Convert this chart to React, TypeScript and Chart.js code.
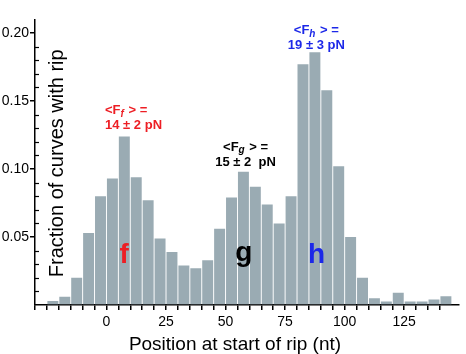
import React, { useEffect, useRef } from 'react';
import { Chart, registerables } from 'chart.js';

Chart.register(...registerables);

// ---- data ----
const binCenters = [
  -22.5, -17.5, -12.5, -7.5, -2.5, 2.5, 7.5, 12.5, 17.5, 22.5, 27.5, 32.5, 37.5, 42.5,
  47.5, 52.5, 57.5, 62.5, 67.5, 72.5, 77.5, 82.5, 87.5, 92.5, 97.5, 102.5, 107.5, 112.5,
  117.5, 122.5, 127.5, 132.5, 137.5, 142.5,
];
const fractions = [
  0.003, 0.006, 0.020, 0.053, 0.080, 0.093, 0.124, 0.094, 0.077, 0.049, 0.039, 0.029, 0.027, 0.033,
  0.056, 0.079, 0.098, 0.087, 0.074, 0.060, 0.080, 0.177, 0.186, 0.158, 0.102, 0.050, 0.020, 0.005,
  0.0025, 0.009, 0.0025, 0.0025, 0.004, 0.0065,
];
const xTickLabels = [0, 25, 50, 75, 100, 125];
const yTickLabels = [0.05, 0.1, 0.15, 0.2];

const peakLetters = ['f', 'g', 'h'];
const forceSubscripts = ['f', 'g', 'h'];
const forceValues = ['14 \u00b1 2 pN', '15 \u00b1 2  pN', '19 \u00b1 3 pN'];

// ---- layout / style ----
const X_MIN = -30;
const X_MAX = 148;
const Y_MAX = 0.21;
const BAR_COLOR = 'rgb(154,171,179)';
const PEAK_COLORS = ['rgb(237,30,36)', '#000000', 'rgb(28,40,232)'];
const FONT = '"Liberation Sans", Arial, Helvetica, sans-serif';

// anchors in data units
const peakLetterPos = [
  { x: 7.4, y: 0.031 },
  { x: 57.7, y: 0.0325 },
  { x: 88.2, y: 0.031 },
];
const forceLabelPos = [
  { x: -0.6, y1: 0.1403, y2: 0.1291, align: 'left' },
  { x: 58.4, y1: 0.1133, y2: 0.1022, align: 'center' },
  { x: 88.1, y1: 0.1991, y2: 0.1881, align: 'center' },
];

const isMult = (v: number, step: number) => {
  const r = v / step;
  return Math.abs(r - Math.round(r)) < 1e-6;
};

const overlayPlugin = {
  id: 'overlay',
  afterDraw(chart: any) {
    const { ctx, chartArea, scales } = chart;
    const xs = scales.x;
    const ys = scales.y;
    ctx.save();

    // inward minor y ticks
    ctx.strokeStyle = '#000';
    ctx.lineWidth = 1.2;
    for (let i = 1; i <= 20; i++) {
      const v = i / 100;
      if (i % 5 === 0) continue;
      const py = Math.round(ys.getPixelForValue(v)) + 0.5;
      ctx.beginPath();
      ctx.moveTo(chartArea.left, py);
      ctx.lineTo(chartArea.left + 4, py);
      ctx.stroke();
    }

    // axis titles
    ctx.fillStyle = '#000';
    ctx.font = `20px ${FONT}`;
    ctx.textAlign = 'center';
    ctx.textBaseline = 'alphabetic';
    ctx.save();
    ctx.translate(chartArea.left + 28, (chartArea.top + chartArea.bottom) / 2 + 1);
    ctx.rotate(-Math.PI / 2);
    ctx.fillText('Fraction of curves with rip', 0, 0);
    ctx.restore();
    ctx.font = `19px ${FONT}`;
    ctx.fillText('Position at start of rip (nt)', chartArea.left + 200, chartArea.bottom + 45);

    // big peak letters
    ctx.font = `bold 28px ${FONT}`;
    peakLetters.forEach((L, i) => {
      ctx.fillStyle = PEAK_COLORS[i];
      ctx.fillText(L, xs.getPixelForValue(peakLetterPos[i].x), ys.getPixelForValue(peakLetterPos[i].y));
    });

    // force annotations
    const mainF = `bold 13px ${FONT}`;
    const subF = `bold italic 10px ${FONT}`;
    forceSubscripts.forEach((sub, i) => {
      const pos = forceLabelPos[i];
      const ax = xs.getPixelForValue(pos.x);
      const y1 = ys.getPixelForValue(pos.y1);
      const y2 = ys.getPixelForValue(pos.y2);
      ctx.fillStyle = PEAK_COLORS[i];
      ctx.textAlign = 'left';
      ctx.font = mainF;
      const p1 = '<F';
      const p3 = ' > =';
      const w1 = ctx.measureText(p1).width;
      const w3 = ctx.measureText(p3).width;
      ctx.font = subF;
      const w2 = ctx.measureText(sub).width + 1;
      const total = w1 + w2 + w3;
      let sx = pos.align === 'left' ? ax : ax - total / 2;
      ctx.font = mainF;
      ctx.fillText(p1, sx, y1);
      ctx.font = subF;
      ctx.fillText(sub, sx + w1, y1 + 2.5);
      ctx.font = mainF;
      ctx.fillText(p3, sx + w1 + w2, y1);
      const wl2 = ctx.measureText(forceValues[i]).width;
      const sx2 = pos.align === 'left' ? ax : ax - wl2 / 2;
      ctx.fillText(forceValues[i], sx2, y2);
    });

    ctx.restore();
  },
};

export default function App() {
  const canvasRef = useRef<HTMLCanvasElement | null>(null);

  useEffect(() => {
    document.body.style.margin = '0';
    const canvas = canvasRef.current;
    if (!canvas) return;
    const chart = new Chart(canvas, {
      type: 'bar',
      data: {
        datasets: [
          {
            data: binCenters.map((x, i) => ({ x, y: fractions[i] })),
            backgroundColor: BAR_COLOR,
            borderWidth: 0,
            barPercentage: 0.92,
            categoryPercentage: 1,
          },
        ],
      },
      options: {
        animation: false,
        responsive: true,
        maintainAspectRatio: false,
        layout: { padding: { top: 19.5, right: 7, left: 0, bottom: 0 } },
        plugins: { legend: { display: false }, tooltip: { enabled: false }, title: { display: false } },
        scales: {
          x: {
            type: 'linear',
            min: X_MIN,
            max: X_MAX,
            offset: false,
            afterFit: (s: any) => {
              s.height = 49;
            },
            border: { display: true, color: '#000', width: 1.5 },
            grid: {
              offset: false,
              drawOnChartArea: false,
              drawTicks: true,
              tickLength: 5,
              lineWidth: 1.5,
              color: (c: any) => (c.tick && isMult(c.tick.value, 5) ? '#000' : 'rgba(0,0,0,0)'),
              tickColor: (c: any) => (c.tick && isMult(c.tick.value, 5) ? '#000' : 'rgba(0,0,0,0)'),
            },
            ticks: {
              stepSize: 5,
              autoSkip: false,
              maxRotation: 0,
              padding: 4,
              color: '#000',
              font: { family: FONT, size: 14 },
              callback: (v: any) => (xTickLabels.includes(Number(v)) ? String(v) : ''),
            },
          },
          y: {
            type: 'linear',
            min: 0,
            max: Y_MAX,
            afterFit: (s: any) => {
              s.width = 35;
            },
            border: { display: true, color: '#000', width: 1.5 },
            grid: {
              drawOnChartArea: false,
              drawTicks: true,
              tickLength: 5,
              lineWidth: 1.5,
              color: (c: any) =>
                c.tick && isMult(c.tick.value, 0.05) && c.tick.value > 0 ? '#000' : 'rgba(0,0,0,0)',
              tickColor: (c: any) =>
                c.tick && isMult(c.tick.value, 0.05) && c.tick.value > 0 ? '#000' : 'rgba(0,0,0,0)',
            },
            ticks: {
              stepSize: 0.01,
              autoSkip: false,
              padding: 1,
              color: '#000',
              font: { family: FONT, size: 14 },
              callback: (v: any) => {
                const n = Number(v);
                return yTickLabels.some((t) => Math.abs(t - n) < 1e-6) ? n.toFixed(2) : '';
              },
            },
          },
        },
      },
      plugins: [overlayPlugin],
    } as any);
    return () => chart.destroy();
  }, []);

  return (
    <div style={{ width: 466, height: 354, position: 'relative' }}>
      <canvas ref={canvasRef} />
    </div>
  );
}
